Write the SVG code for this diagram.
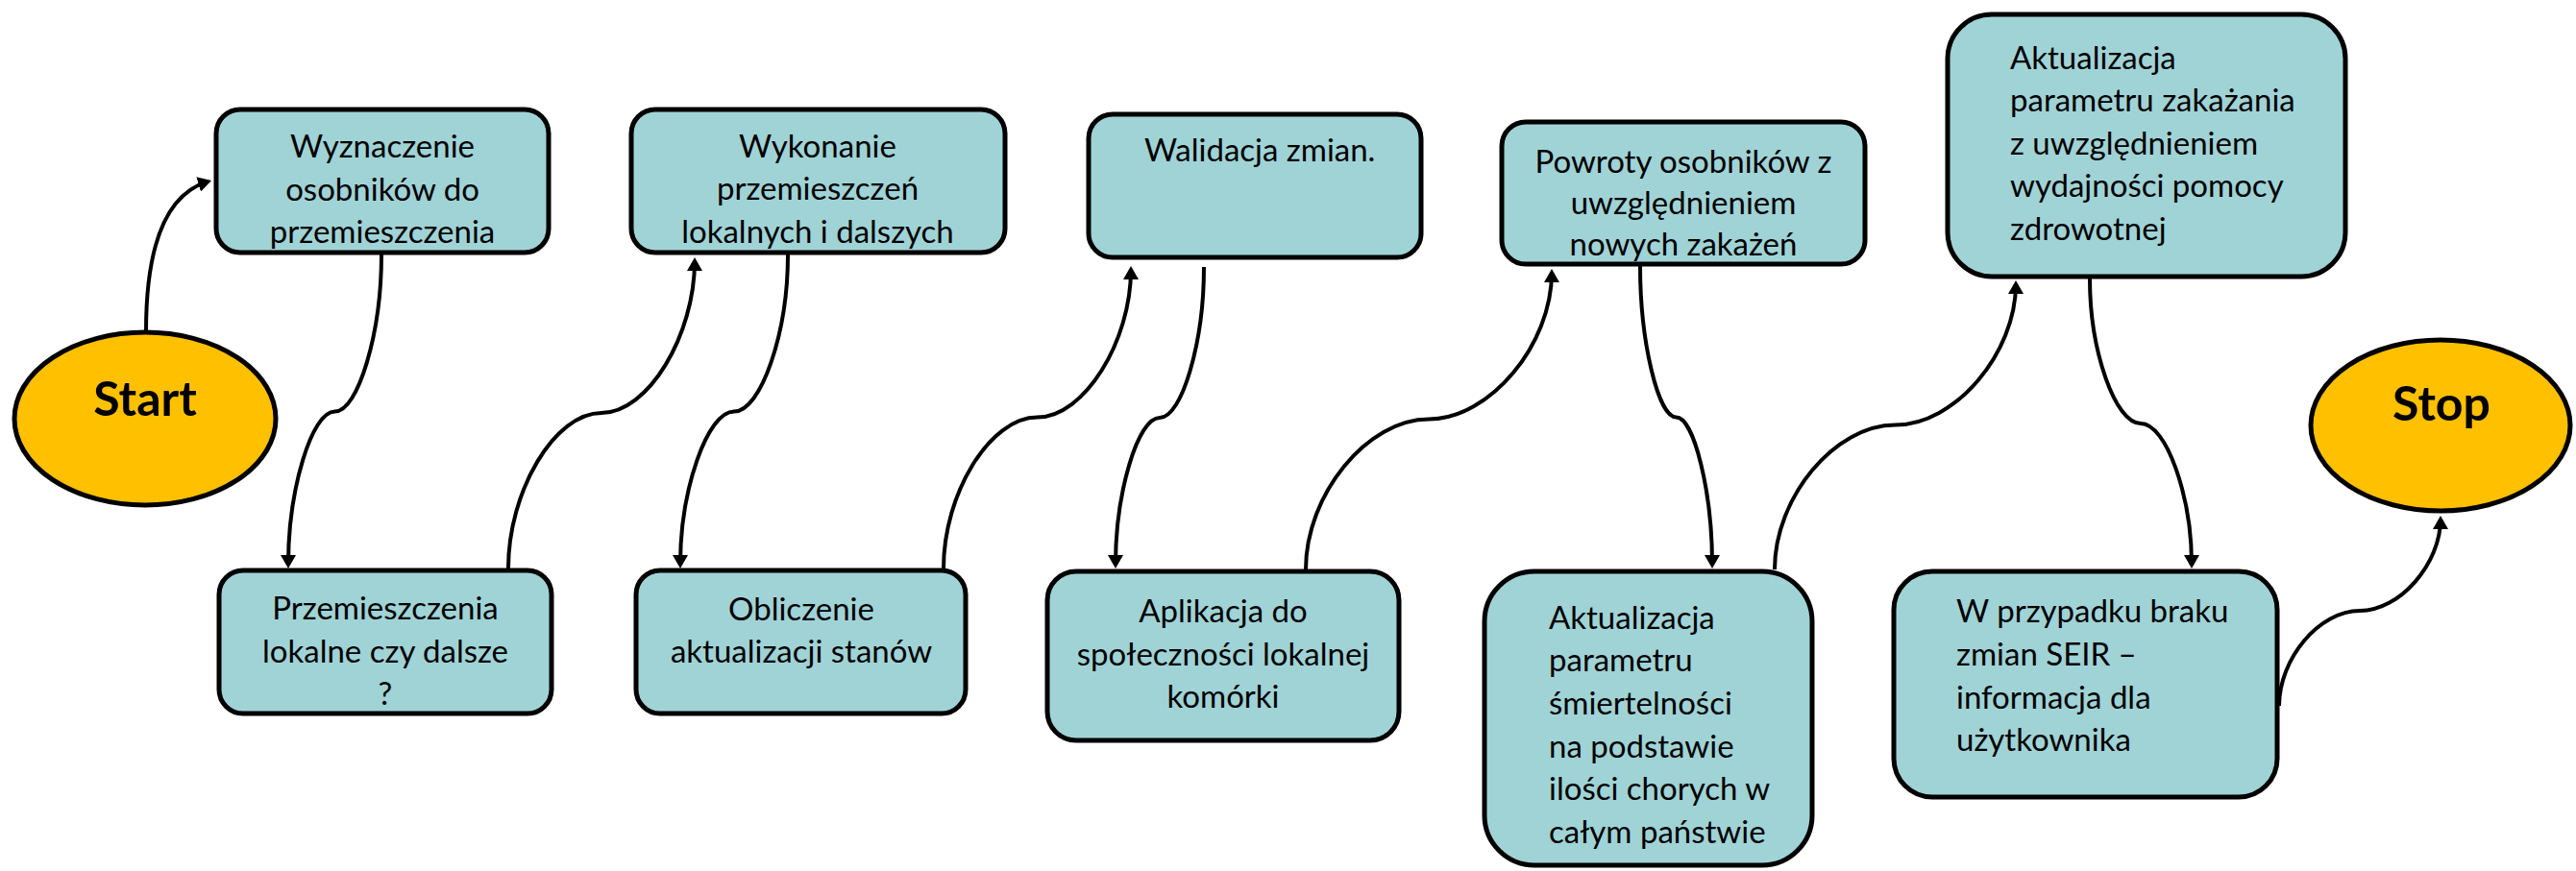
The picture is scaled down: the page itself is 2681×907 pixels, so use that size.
<svg xmlns="http://www.w3.org/2000/svg" width="2681" height="907" viewBox="0 0 2681 907">
<defs>
<style>
.box{fill:#A0D3D6;stroke:#000;stroke-width:5}
.oval{fill:#FFC000;stroke:#000;stroke-width:5}
.t{font-family:Lato,'Liberation Sans',sans-serif;font-size:33px;fill:#000}
.c{text-anchor:middle}
.b{font-weight:bold;font-size:50px}
#connectors path{fill:none;stroke:#000;stroke-width:4;marker-end:url(#arr)}
</style>
<marker id="arr" markerUnits="userSpaceOnUse" viewBox="0 0 14 16" markerWidth="14" markerHeight="16" refX="10" refY="8" orient="auto"><path d="M0,0 L14,8 L0,16 z" fill="#000"/></marker>
</defs>
<rect width="2681" height="907" fill="#fff"/>

<g id="connectors">
<path d="M152,345 C152,240 180,200 216.2,189.1"/>
<path d="M397,265 C397,346.75 372.75,428.5 348.5,428.5 C324.25,428.5 300,510.25 300,588"/>
<path d="M529,592 C529,511 577.5,430 626,430 C674.5,430 723,349 723,272"/>
<path d="M820,265 C820,346.75 792,428.5 764,428.5 C736,428.5 708,510.25 708,588"/>
<path d="M982,592 C982,513.25 1030.75,434.5 1079.5,434.5 C1128.25,434.5 1177,355.75 1177,281"/>
<path d="M1253,278 C1253,356.5 1230,435 1207,435 C1184,435 1161,513.5 1161,588"/>
<path d="M1359,593 C1359,514.75 1423,436.5 1487,436.5 C1551,436.5 1615,358.25 1615,284"/>
<path d="M1707,277 C1707,355.75 1725.75,434.5 1744.5,434.5 C1763.25,434.5 1782,513.25 1782,588"/>
<path d="M1847,593 C1847,517.75 1909.75,442.5 1972.5,442.5 C2035.25,442.5 2098,367.25 2098,296"/>
<path d="M2175,290 C2175,365.5 2201.5,441 2228,441 C2254.5,441 2281,516.5 2281,588"/>
<path d="M2372,735 C2372,685.5 2414,636 2456,636 C2498,636 2540,586.5 2540,541"/>
</g>

<g id="start">
<ellipse class="oval" cx="151" cy="436" rx="136" ry="90"/>
<text class="t c b" x="151" y="433">Start</text>
</g>

<g id="stop">
<ellipse class="oval" cx="2540" cy="443" rx="135" ry="89"/>
<text class="t c b" x="2541" y="438">Stop</text>
</g>

<g id="n1">
<rect class="box" x="225" y="114" width="346" height="149" rx="25"/>
<text class="t c" x="398"><tspan x="398" y="164">Wyznaczenie</tspan><tspan x="398" y="209">osobników do</tspan><tspan x="398" y="253">przemieszczenia</tspan></text>
</g>

<g id="n2">
<rect class="box" x="657" y="114" width="389" height="149" rx="25"/>
<text class="t c"><tspan x="851" y="164">Wykonanie</tspan><tspan x="851" y="208">przemieszczeń</tspan><tspan x="851" y="253">lokalnych i dalszych</tspan></text>
</g>

<g id="n3">
<rect class="box" x="1133" y="119" width="346" height="149" rx="25"/>
<text class="t" x="1191" y="168">Walidacja zmian.</text>
</g>

<g id="n4">
<rect class="box" x="1563" y="127" width="378" height="148" rx="25"/>
<text class="t c"><tspan x="1752" y="180">Powroty osobników z</tspan><tspan x="1752" y="223">uwzględnieniem</tspan><tspan x="1752" y="266">nowych zakażeń</tspan></text>
</g>

<g id="n5">
<rect class="box" x="2027" y="15" width="414" height="273" rx="46"/>
<text class="t"><tspan x="2092" y="72">Aktualizacja</tspan><tspan x="2092" y="116">parametru zakażania</tspan><tspan x="2092" y="161">z uwzględnieniem</tspan><tspan x="2092" y="205">wydajności pomocy</tspan><tspan x="2092" y="250">zdrowotnej</tspan></text>
</g>

<g id="n6">
<rect class="box" x="228" y="594" width="346" height="149" rx="25"/>
<text class="t c"><tspan x="401" y="645">Przemieszczenia</tspan><tspan x="401" y="690">lokalne czy dalsze</tspan><tspan x="401" y="734">?</tspan></text>
</g>

<g id="n7">
<rect class="box" x="662" y="594" width="343" height="149" rx="25"/>
<text class="t c"><tspan x="834" y="646">Obliczenie</tspan><tspan x="834" y="690">aktualizacji stanów</tspan></text>
</g>

<g id="n8">
<rect class="box" x="1090" y="595" width="366" height="176" rx="30"/>
<text class="t c"><tspan x="1273" y="648">Aplikacja do</tspan><tspan x="1273" y="693">społeczności lokalnej</tspan><tspan x="1273" y="737">komórki</tspan></text>
</g>

<g id="n9">
<rect class="box" x="1545" y="595" width="341" height="306" rx="52"/>
<text class="t"><tspan x="1612" y="655">Aktualizacja</tspan><tspan x="1612" y="699">parametru</tspan><tspan x="1612" y="744">śmiertelności</tspan><tspan x="1612" y="789">na podstawie</tspan><tspan x="1612" y="833">ilości chorych w</tspan><tspan x="1612" y="878">całym państwie</tspan></text>
</g>

<g id="n10">
<rect class="box" x="1971" y="595" width="399" height="235" rx="40"/>
<text class="t"><tspan x="2036" y="648">W przypadku braku</tspan><tspan x="2036" y="693">zmian SEIR –</tspan><tspan x="2036" y="738">informacja dla</tspan><tspan x="2036" y="782">użytkownika</tspan></text>
</g>
</svg>
